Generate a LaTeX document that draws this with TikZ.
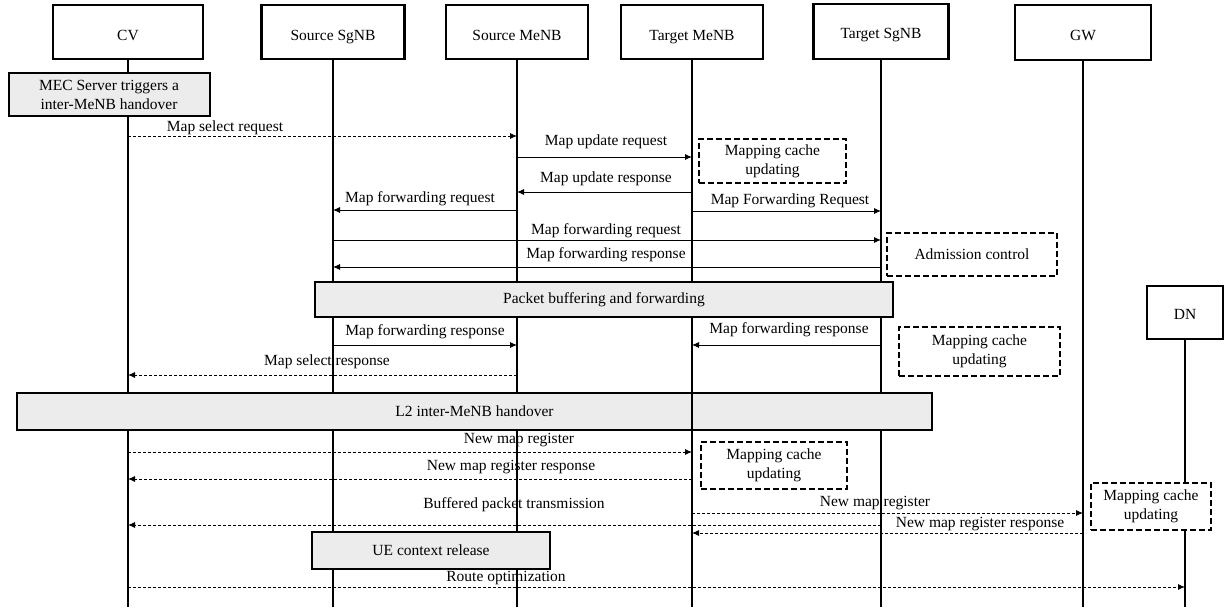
\documentclass[tikz,border=0pt]{standalone}
\usepackage{fontspec}
\setmainfont{Liberation Serif}
\usetikzlibrary{arrows.meta}
\tikzset{
  head/.style={draw,line width=2.2pt,minimum height=54,inner sep=0pt,text height=16pt,text depth=0pt},
  life/.style={line width=1.2pt},
  graybox/.style={draw,line width=2pt,fill=gray!15,inner sep=0pt,align=center},
  dashbox/.style={draw,line width=2.2pt,dash pattern=on 6pt off 3pt,fill=white,inner sep=0pt,align=center},
  msg/.style={line width=0.9pt,->},
  dmsg/.style={line width=0.9pt,->,dash pattern=on 3pt off 2pt},
  lbl/.style={inner sep=1pt}
}
\begin{document}
\begin{tikzpicture}[x=1pt,y=-1pt,font=\fontsize{15.5}{19}\selectfont,>={Latex[length=7pt,width=6pt]}]
\useasboundingbox (0,0) rectangle (1224,611);
% lifeline heads
\node[head,minimum width=150] (cv) at (128,32) {CV};
\node[head,minimum width=143] (ssgnb) at (333,32) {Source SgNB};
\node[head,minimum width=142] (smenb) at (517,32) {Source MeNB};
\node[head,minimum width=142] (tmenb) at (692,32) {Target MeNB};
\node[head,minimum width=135,minimum height=55,text height=14pt] (tsgnb) at (881,31.5) {Target SgNB};
\node[head,minimum width=136,minimum height=55] (gw) at (1083,32.5) {GW};
\node[head,minimum width=76,minimum height=53,text height=14pt] (dn) at (1185,312.5) {DN};
\draw[life] (cv.south) -- (cv |- 0,607);
\draw[life] (ssgnb.south) -- (ssgnb |- 0,607);
\draw[life] (smenb.south) -- (smenb |- 0,607);
\draw[life] (tmenb.south) -- (tmenb |- 0,607);
\draw[life] (tsgnb.south) -- (tsgnb |- 0,607);
\draw[life] (gw.south) -- (gw |- 0,607);
\draw[life] (dn.south) -- (dn |- 0,607);
% boxes
\node[graybox,minimum width=201,minimum height=43] (mec) at (109,94.5) {MEC Server triggers a\\inter-MeNB handover};
\node[dashbox,minimum width=147,minimum height=44] (mc1) at (772.5,161) {Mapping cache\\updating};
\node[dashbox,minimum width=170,minimum height=43] (adm) at (972,254.5) {Admission control};
\node[graybox,minimum width=578,minimum height=35] (pkt) at (604,299.5) {Packet buffering and forwarding};
\node[dashbox,minimum width=161,minimum height=49] (mc2) at (979.5,351.5) {Mapping cache\\updating};
\node[graybox,minimum width=915,minimum height=37] (l2) at (474.5,411.5) {L2 inter-MeNB handover};
\draw[life] (tmenb |- l2.north) -- (tmenb |- l2.south);
\node[dashbox,minimum width=146,minimum height=47] (mc3) at (774,465.5) {Mapping cache\\updating};
\node[dashbox,minimum width=120,minimum height=47] (mc4) at (1151,506.5) {Mapping cache\\updating};
\node[graybox,minimum width=238,minimum height=37] (ue) at (431,550.5) {UE context release};
% messages
\draw[dmsg] (cv |- 0,136) -- (smenb |- 0,136);
\node[lbl] (t1) at (225,128) {Map select request};
\draw[msg] (smenb |- 0,157) -- (tmenb |- 0,157);
\node[lbl] (t2) at (606,142) {Map update request};
\draw[msg] (tmenb |- 0,192) -- (smenb |- 0,192);
\node[lbl] (t3) at (606,179) {Map update response};
\draw[msg] (smenb |- 0,210) -- (ssgnb |- 0,210);
\node[lbl] (t4) at (420,199) {Map forwarding request};
\draw[msg] (tmenb |- 0,211) -- (tsgnb |- 0,211);
\node[lbl] (t5) at (790,201) {Map Forwarding Request};
\draw[msg] (ssgnb |- 0,240) -- (tsgnb |- 0,240);
\node[lbl] (t6) at (606,231) {Map forwarding request};
\draw[msg] (tsgnb |- 0,267) -- (ssgnb |- 0,267);
\node[lbl] (t7) at (606,255) {Map forwarding response};
\draw[msg] (ssgnb |- 0,345) -- (smenb |- 0,345);
\node[lbl] (t8) at (425,332) {Map forwarding response};
\draw[msg] (tsgnb |- 0,345) -- (tmenb |- 0,345);
\node[lbl] (t9) at (789,330) {Map forwarding response};
\draw[dmsg] (smenb |- 0,375) -- (cv |- 0,375);
\node[lbl] (t10) at (327,362) {Map select response};
\draw[dmsg] (cv |- 0,452) -- (tmenb |- 0,452);
\node[lbl] (t11) at (519,440) {New map register};
\draw[dmsg] (tmenb |- 0,479) -- (cv |- 0,479);
\node[lbl] (t12) at (511,467) {New map register response};
\draw[dmsg] (tsgnb |- 0,525) -- (cv |- 0,525);
\node[lbl] (t13) at (514,505) {Buffered packet transmission};
\draw[dmsg] (tmenb |- 0,513) -- (gw |- 0,513);
\node[lbl] (t14) at (875,503) {New map register};
\draw[dmsg] (gw |- 0,533) -- (tmenb |- 0,533);
\node[lbl] (t15) at (980,524) {New map register response};
\draw[dmsg] (cv |- 0,587) -- (dn |- 0,587);
\node[lbl] (t16) at (506,578) {Route optimization};
\end{tikzpicture}
\end{document}
